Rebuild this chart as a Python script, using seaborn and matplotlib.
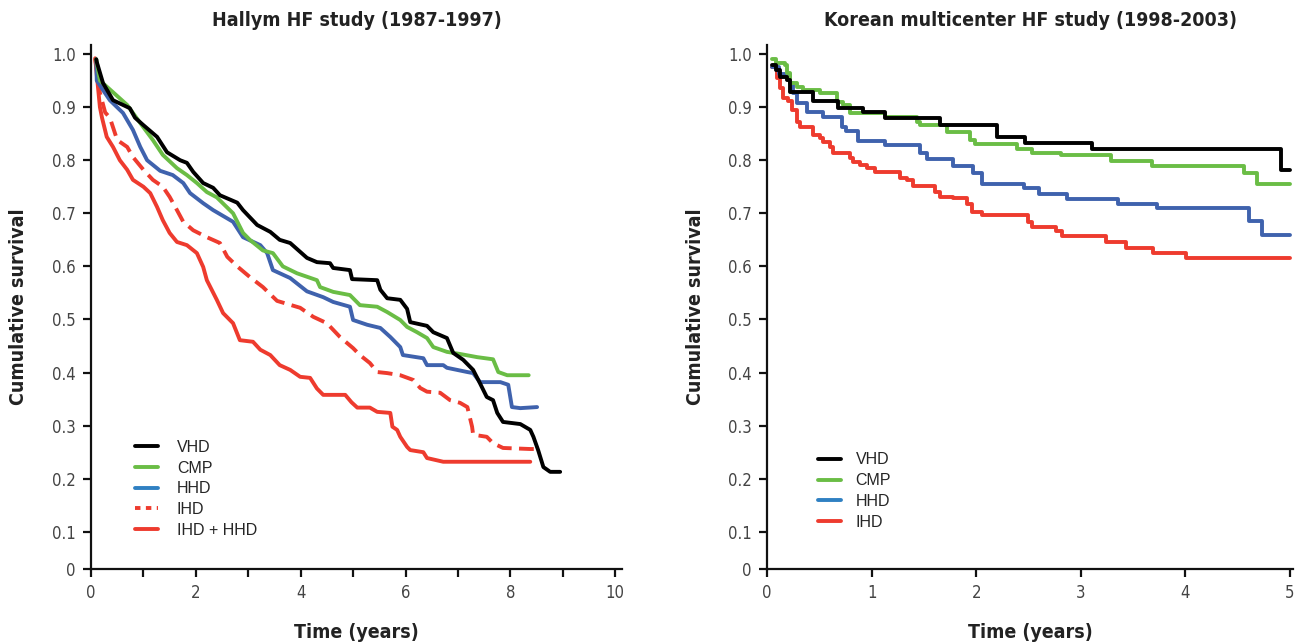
import numpy as np
import pandas as pd
import matplotlib
matplotlib.use("Agg")
import matplotlib.pyplot as plt
from matplotlib.lines import Line2D
from matplotlib.ticker import MultipleLocator, FuncFormatter
import seaborn as sns

# ---------------- Left panel: Hallym HF study (1987-1997) ----------------
vhd_l_t = [0.1, 0.11, 0.23, 0.42, 0.74, 0.84, 1.0, 1.26, 1.45, 1.7, 1.83, 1.95, 2.14, 2.33, 2.46, 2.79, 2.9, 3.17,
           3.42, 3.6, 3.8, 4.12, 4.31, 4.56, 4.62, 4.94, 4.98, 5.46, 5.52, 5.65, 5.9, 6.03, 6.09, 6.41, 6.53, 6.79,
           6.91, 7.1, 7.29, 7.42, 7.55, 7.67, 7.75, 7.86, 8.19, 8.38, 8.44, 8.53, 8.63, 8.76, 8.95]
vhd_l_s = [0.99, 0.985, 0.945, 0.913, 0.898, 0.88, 0.866, 0.844, 0.815, 0.80, 0.795, 0.778, 0.757, 0.748, 0.734, 0.72,
           0.706, 0.678, 0.665, 0.65, 0.644, 0.616, 0.608, 0.606, 0.597, 0.593, 0.576, 0.574, 0.556, 0.54, 0.537, 0.52,
           0.495, 0.488, 0.476, 0.465, 0.437, 0.424, 0.405, 0.38, 0.354, 0.348, 0.324, 0.307, 0.303, 0.292, 0.279,
           0.254, 0.222, 0.213, 0.213]

cmp_l_t = [0.1, 0.17, 0.42, 0.69, 0.94, 1.18, 1.37, 1.64, 1.83, 2.02, 2.21, 2.4, 2.71, 2.9, 3.03, 3.28, 3.47, 3.66,
           3.93, 4.31, 4.37, 4.62, 4.94, 5.13, 5.46, 5.65, 5.9, 6.03, 6.22, 6.41, 6.53, 6.79, 7.04, 7.37, 7.67, 7.77,
           7.94, 8.35]
cmp_l_s = [0.99, 0.95, 0.928, 0.904, 0.87, 0.838, 0.81, 0.785, 0.772, 0.757, 0.74, 0.73, 0.70, 0.663, 0.65, 0.63,
           0.625, 0.60, 0.587, 0.574, 0.561, 0.552, 0.546, 0.527, 0.524, 0.514, 0.499, 0.486, 0.476, 0.465, 0.448,
           0.439, 0.435, 0.429, 0.425, 0.401, 0.395, 0.395]

hhd_l_t = [0.1, 0.11, 0.23, 0.36, 0.61, 0.8, 0.94, 1.07, 1.32, 1.56, 1.76, 1.89, 2.14, 2.33, 2.71, 2.9, 3.23, 3.36,
           3.47, 3.8, 4.12, 4.43, 4.62, 4.94, 5.0, 5.27, 5.52, 5.71, 5.9, 5.95, 6.34, 6.41, 6.72, 6.79, 7.18, 7.29,
           7.42, 7.81, 7.96, 8.03, 8.19, 8.51]
hhd_l_s = [0.99, 0.95, 0.932, 0.913, 0.889, 0.857, 0.825, 0.80, 0.78, 0.772, 0.757, 0.738, 0.719, 0.706, 0.684, 0.655,
           0.64, 0.625, 0.593, 0.578, 0.553, 0.542, 0.533, 0.524, 0.499, 0.49, 0.484, 0.467, 0.448, 0.433, 0.427,
           0.414, 0.414, 0.409, 0.401, 0.399, 0.382, 0.382, 0.377, 0.335, 0.333, 0.335]

ihd_l_t = [0.08, 0.17, 0.27, 0.36, 0.42, 0.5, 0.69, 0.8, 1.0, 1.18, 1.37, 1.5, 1.64, 1.76, 1.95, 2.21, 2.46, 2.6,
           2.79, 3.03, 3.28, 3.55, 3.99, 4.24, 4.5, 4.75, 5.0, 5.13, 5.32, 5.46, 5.65, 5.9, 6.15, 6.28, 6.41, 6.66,
           6.85, 7.04, 7.18, 7.27, 7.29, 7.55, 7.67, 7.86, 8.38, 8.51]
ihd_l_s = [0.992, 0.927, 0.89, 0.88, 0.862, 0.838, 0.825, 0.806, 0.782, 0.763, 0.75, 0.731, 0.706, 0.684, 0.668,
           0.655, 0.644, 0.618, 0.60, 0.58, 0.561, 0.535, 0.522, 0.505, 0.493, 0.467, 0.446, 0.433, 0.418, 0.401,
           0.399, 0.395, 0.386, 0.371, 0.364, 0.362, 0.348, 0.343, 0.335, 0.298, 0.283, 0.279, 0.267, 0.258, 0.256,
           0.256]

ihdhhd_l_t = [0.08, 0.17, 0.21, 0.3, 0.42, 0.55, 0.69, 0.8, 1.0, 1.13, 1.26, 1.37, 1.5, 1.64, 1.83, 2.02, 2.14, 2.21,
              2.4, 2.52, 2.71, 2.84, 3.09, 3.23, 3.42, 3.6, 3.8, 3.99, 4.18, 4.31, 4.43, 4.85, 4.97, 5.08, 5.32, 5.46,
              5.71, 5.75, 5.84, 5.9, 6.03, 6.09, 6.34, 6.41, 6.72, 8.38]
ihdhhd_l_s = [0.992, 0.90, 0.88, 0.844, 0.825, 0.80, 0.782, 0.763, 0.75, 0.738, 0.712, 0.687, 0.663, 0.646, 0.64,
              0.625, 0.599, 0.574, 0.537, 0.512, 0.493, 0.461, 0.458, 0.443, 0.433, 0.414, 0.405, 0.392, 0.39, 0.37,
              0.358, 0.358, 0.344, 0.334, 0.334, 0.326, 0.324, 0.298, 0.292, 0.279, 0.26, 0.254, 0.25, 0.239, 0.232,
              0.232]

# ---------------- Right panel: Korean multicenter HF study (1998-2003) ----------------
vhd_r_t = [0.05, 0.09, 0.12, 0.19, 0.22, 0.44, 0.68, 0.92, 1.13, 1.65, 2.2, 2.47, 3.11, 4.92, 5.0]
vhd_r_s = [0.979, 0.97, 0.957, 0.951, 0.928, 0.912, 0.899, 0.89, 0.88, 0.867, 0.844, 0.832, 0.821, 0.781, 0.781]

cmp_r_t = [0.05, 0.09, 0.17, 0.19, 0.22, 0.29, 0.34, 0.51, 0.67, 0.73, 0.79, 1.13, 1.43, 1.46, 1.72, 1.94, 1.99,
           2.39, 2.53, 2.81, 3.29, 3.68, 4.56, 4.69, 5.0]
cmp_r_s = [0.99, 0.983, 0.98, 0.964, 0.945, 0.938, 0.932, 0.926, 0.91, 0.904, 0.889, 0.881, 0.872, 0.866, 0.853,
           0.838, 0.83, 0.822, 0.813, 0.81, 0.798, 0.789, 0.776, 0.756, 0.756]

hhd_r_t = [0.05, 0.11, 0.22, 0.25, 0.29, 0.38, 0.54, 0.72, 0.76, 0.87, 1.13, 1.46, 1.53, 1.78, 1.97, 2.06, 2.46,
           2.6, 2.87, 3.36, 3.73, 4.61, 4.73, 5.0]
hhd_r_s = [0.976, 0.962, 0.945, 0.926, 0.908, 0.89, 0.881, 0.863, 0.855, 0.837, 0.828, 0.814, 0.803, 0.79, 0.775,
           0.756, 0.747, 0.737, 0.727, 0.718, 0.71, 0.686, 0.66, 0.66]

ihd_r_t = [0.05, 0.1, 0.12, 0.15, 0.2, 0.24, 0.29, 0.32, 0.44, 0.51, 0.54, 0.6, 0.63, 0.79, 0.82, 0.89, 0.96, 1.03,
           1.27, 1.34, 1.4, 1.61, 1.65, 1.78, 1.91, 1.96, 2.06, 2.5, 2.53, 2.76, 2.82, 3.24, 3.43, 3.69, 4.01, 5.0]
ihd_r_s = [0.975, 0.955, 0.936, 0.917, 0.912, 0.894, 0.872, 0.862, 0.847, 0.841, 0.834, 0.825, 0.813, 0.805, 0.797,
           0.791, 0.785, 0.778, 0.766, 0.762, 0.752, 0.74, 0.731, 0.728, 0.718, 0.702, 0.697, 0.684, 0.675, 0.667,
           0.658, 0.646, 0.635, 0.625, 0.615, 0.615]

left_groups = ["IHD + HHD", "IHD", "HHD", "CMP", "VHD"]          # draw order (black on top)
right_groups = ["IHD", "HHD", "CMP", "VHD"]
left_legend_order = ["VHD", "CMP", "HHD", "IHD", "IHD + HHD"]
right_legend_order = ["VHD", "CMP", "HHD", "IHD"]
y_ticks = [0.1, 0.2, 0.3, 0.4, 0.5, 0.6, 0.7, 0.8, 0.9, 1.0]
y_tick_labels = ["0.1", "0.2", "0.3", "0.4", "0.5", "0.6", "0.7", "0.8", "0.9", "1.0"]

# ---------------- styling ----------------
BLACK = "#000000"
GREEN = "#6abd45"
BLUE = "#3f62ad"
BLUE_LEG = "#2f80c2"
RED = "#ee3b2e"
line_colors = {"VHD": BLACK, "CMP": GREEN, "HHD": BLUE, "IHD": RED, "IHD + HHD": RED}
legend_colors = {"VHD": BLACK, "CMP": GREEN, "HHD": BLUE_LEG, "IHD": RED, "IHD + HHD": RED}

sns.set_theme(style="ticks")
plt.rcParams["font.family"] = ["DejaVu Sans"]
COND = dict(family="DejaVu Sans", stretch="condensed")

def long_df(series):
    frames = []
    for name, (t, s) in series.items():
        frames.append(pd.DataFrame({"time": t, "survival": s, "group": name}))
    return pd.concat(frames, ignore_index=True)

left_df = long_df({"VHD": (vhd_l_t, vhd_l_s), "CMP": (cmp_l_t, cmp_l_s), "HHD": (hhd_l_t, hhd_l_s),
                   "IHD": (ihd_l_t, ihd_l_s), "IHD + HHD": (ihdhhd_l_t, ihdhhd_l_s)})
right_df = long_df({"VHD": (vhd_r_t, vhd_r_s), "CMP": (cmp_r_t, cmp_r_s), "HHD": (hhd_r_t, hhd_r_s),
                    "IHD": (ihd_r_t, ihd_r_s)})

fig = plt.figure(figsize=(12.96, 6.42), dpi=100)
axL = fig.add_axes([91 / 1296, 1 - 569 / 642, 531 / 1296, 524 / 642])
axR = fig.add_axes([767 / 1296, 1 - 569 / 642, 526 / 1296, 524 / 642])

LW = 2.8
sns.lineplot(data=left_df, x="time", y="survival", hue="group", style="group",
             hue_order=left_groups, style_order=left_groups, palette=line_colors,
             dashes={"VHD": "", "CMP": "", "HHD": "", "IHD": (3.8, 1.9), "IHD + HHD": ""},
             estimator=None, sort=False, linewidth=LW, legend=False, ax=axL)
sns.lineplot(data=right_df, x="time", y="survival", hue="group",
             hue_order=right_groups, palette=line_colors,
             estimator=None, sort=False, linewidth=LW, legend=False,
             drawstyle="steps-post", ax=axR)

for ax, xmax, titletxt in [(axL, 10.13, "Hallym HF study (1987-1997)"),
                           (axR, 5.03, "Korean multicenter HF study (1998-2003)")]:
    ax.set_xlim(0, xmax)
    ax.set_ylim(0.03, 1.017)
    ax.set_yticks([0.03] + y_ticks)
    ax.set_yticklabels(["0"] + y_tick_labels)
    for side in ["top", "right"]:
        ax.spines[side].set_visible(False)
    for side in ["left", "bottom"]:
        ax.spines[side].set_linewidth(1.6)
        ax.spines[side].set_color("#111111")
    ax.tick_params(axis="both", which="both", direction="out", length=6, width=1.6, color="#111111", pad=5)
    ax.set_xlabel("Time (years)", fontsize=14, fontweight="bold", color="#222222", **COND)
    ax.set_ylabel("Cumulative survival", fontsize=14, fontweight="bold", color="#222222", **COND)
    ax.xaxis.set_label_coords(0.5, -0.104)
    ax.yaxis.set_label_coords(-0.118, 0.5)
    ax.set_title(titletxt, fontsize=14, fontweight="bold", color="#222222", pad=14, **COND)
    ax.set_facecolor("white")

axL.xaxis.set_major_locator(MultipleLocator(2))
axL.xaxis.set_minor_locator(MultipleLocator(1))
axL.xaxis.set_major_formatter(FuncFormatter(lambda v, p: f"{int(round(v))}"))
axR.xaxis.set_major_locator(MultipleLocator(1))
axR.xaxis.set_major_formatter(FuncFormatter(lambda v, p: f"{int(round(v))}"))
for ax in (axL, axR):
    for lab in ax.get_xticklabels() + ax.get_yticklabels():
        lab.set_fontfamily("DejaVu Sans")
        lab.set_fontstretch("condensed")
        lab.set_fontsize(12)
        lab.set_color("#444444")

def make_handles(order, dotted_ihd):
    hs = []
    for g in order:
        if g == "IHD" and dotted_ihd:
            hs.append(Line2D([0], [0], color=legend_colors[g], lw=LW, linestyle=(0, (1.4, 1.4))))
        else:
            hs.append(Line2D([0], [0], color=legend_colors[g], lw=LW))
    return hs

leg_font = dict(family=["Liberation Sans", "DejaVu Sans"], size=11.5)
axL.legend(make_handles(left_legend_order, True), left_legend_order, loc="upper left",
           bbox_to_anchor=(0.055, 0.274), frameon=False, handlelength=1.45, handletextpad=1.2,
           labelspacing=0.36, prop=leg_font)
axR.legend(make_handles(right_legend_order, False), right_legend_order, loc="upper left",
           bbox_to_anchor=(0.07, 0.25), frameon=False, handlelength=1.45, handletextpad=0.9,
           labelspacing=0.36, prop=leg_font)

fig.savefig("out.png", dpi=100, facecolor="white")
